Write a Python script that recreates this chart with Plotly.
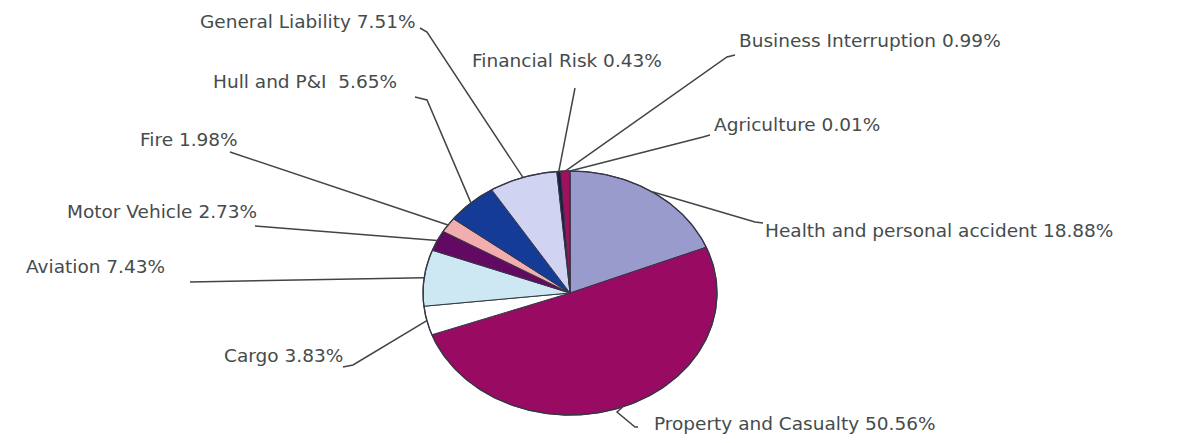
import numpy as np
import plotly.graph_objects as go

# Market share by line of insurance (percent), clockwise from 12 o'clock
categories = [
    "Health and personal accident", "Property and Casualty", "Cargo", "Aviation",
    "Motor Vehicle", "Fire", "Hull and P&I", "General Liability",
    "Financial Risk", "Business Interruption", "Agriculture",
]
shares = [18.88, 50.56, 3.83, 7.43, 2.73, 1.98, 5.65, 7.51, 0.43, 0.99, 0.01]
label_texts = [
    "Health and personal accident 18.88%", "Property and Casualty 50.56%",
    "Cargo 3.83%", "Aviation 7.43%", "Motor Vehicle 2.73%", "Fire 1.98%",
    "Hull and P&I  5.65%", "General Liability 7.51%", "Financial Risk 0.43%",
    "Business Interruption 0.99%", "Agriculture 0.01%",
]
slice_colors = [
    "#9A9BCD", "#990A62", "#FFFFFF", "#CDE7F3", "#620A62", "#F2AEAE",
    "#143C96", "#D0D3F1", "#1C1C44", "#A0105E", "#660066",
]

# Tilted (elliptical) pie geometry in screen units
W, H = 1184, 443
CX, CY = 570, 293
RX, RY = 147, 122

# Label anchor (x, y, xanchor) and leader-line start points near each label
label_pos = [
    (763, 230, "left"), (652, 423, "left"), (345, 355, "right"), (167, 266, "right"),
    (259, 211, "right"), (240, 139, "right"), (399, 81, "right"), (418, 21, "right"),
    (567, 60, "center"), (737, 40, "left"), (712, 124, "left"),
]
leader_start = [
    [(763, 223), (755, 222)], [(638, 427), (635, 427), (617, 412)],
    [(343, 367), (353, 365)], [(190, 282)], [(255, 226)], [(230, 152)],
    [(415, 97), (427, 100)], [(420, 28), (427, 32)], [(575, 88)],
    [(735, 55), (727, 57)], [(710, 135), (703, 137)],
]


def ellipse_point(frac):
    t = 2 * np.pi * frac
    return CX + RX * np.sin(t), CY - RY * np.cos(t)


fig = go.Figure()

total = float(sum(shares))
bounds = np.concatenate([[0.0], np.cumsum(shares) / total])

for i, (name, val) in enumerate(zip(categories, shares)):
    a0, a1 = bounds[i], bounds[i + 1]
    n = max(2, int(val * 4) + 2)
    fr = np.linspace(a0, a1, n)
    ex, ey = ellipse_point(fr)
    xs = np.concatenate([[CX], ex, [CX]])
    ys = np.concatenate([[CY], ey, [CY]])
    fig.add_trace(go.Scatter(
        x=xs, y=ys, mode="lines", fill="toself",
        fillcolor=slice_colors[i],
        line=dict(color="#363646", width=1),
        name=name, hoverinfo="name", showlegend=False,
    ))

# Outer rim of the pie
rim = np.linspace(0, 1, 361)
rx_, ry_ = ellipse_point(rim)
fig.add_trace(go.Scatter(x=rx_, y=ry_, mode="lines",
                         line=dict(color="#363646", width=1.4),
                         hoverinfo="skip", showlegend=False))

# Leader lines from each label to the middle of its slice edge
for i in range(len(shares)):
    mid = (bounds[i] + bounds[i + 1]) / 2
    ex, ey = ellipse_point(mid)
    pts = leader_start[i] + [(ex, ey)]
    fig.add_trace(go.Scatter(
        x=[p[0] for p in pts], y=[p[1] for p in pts], mode="lines",
        line=dict(color="#3e4646", width=1.5),
        hoverinfo="skip", showlegend=False,
    ))

for i, txt in enumerate(label_texts):
    x, y, anchor = label_pos[i]
    fig.add_annotation(
        x=x, y=y, text=txt, showarrow=False, xanchor=anchor, yanchor="middle",
        font=dict(family="DejaVu Sans", size=18.5, color="#454c4c"),
    )

fig.update_layout(
    width=W, height=H,
    margin=dict(l=0, r=0, t=0, b=0),
    paper_bgcolor="white", plot_bgcolor="white",
    xaxis=dict(range=[0, W], visible=False, fixedrange=True),
    yaxis=dict(range=[H, 0], visible=False, fixedrange=True),
)

fig.write_html("out.html")
